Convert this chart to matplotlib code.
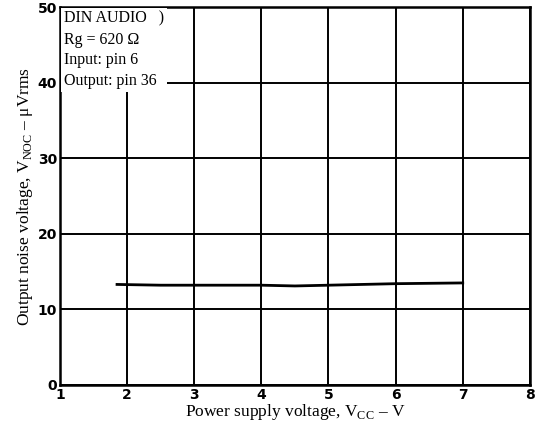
import matplotlib
matplotlib.use('Agg')
import matplotlib.pyplot as plt

plt.rcParams['mathtext.fontset'] = 'custom'
plt.rcParams['mathtext.rm'] = 'Liberation Serif'

# Data
vcc = [1.85, 2.5, 3.0, 3.5, 4.0, 4.5, 5.0, 5.5, 6.0, 6.5, 7.0]
vnoc = [13.3, 13.2, 13.2, 13.2, 13.2, 13.1, 13.2, 13.3, 13.4, 13.45, 13.5]

x_ticks = [1, 2, 3, 4, 5, 6, 7, 8]
y_ticks = [0, 10, 20, 30, 40, 50]

fig = plt.figure(figsize=(5.37, 4.30), dpi=100)
ax = fig.add_axes([0.1117, 0.1047, 0.875, 0.879])

ax.set_xlim(1, 8)
ax.set_ylim(0, 50)
ax.set_xticks(x_ticks)
ax.set_yticks(y_ticks)
ax.tick_params(length=0, pad=2)
for lab in ax.get_xticklabels() + ax.get_yticklabels():
    lab.set_fontweight('bold')
    lab.set_fontsize(10)
    lab.set_family('DejaVu Sans')

ax.grid(True, color='black', linewidth=1.4)
for s in ax.spines.values():
    s.set_linewidth(1.8)

ax.plot(vcc, vnoc, color='black', linewidth=2.0)

ax.text(1.06, 49.5,
        'DIN AUDIO   )\nRg = 620 Ω\nInput: pin 6\nOutput: pin 36',
        family='Liberation Serif', fontsize=11.5, va='top', ha='left',
        linespacing=1.4,
        bbox=dict(facecolor='white', edgecolor='none', pad=2))

ax.set_xlabel('Power supply voltage, V$_{\\rm CC}$ – V',
              family='Liberation Serif', fontsize=12.5, labelpad=0)
ax.set_ylabel('Output noise voltage, V$_{\\rm NOC}$ – μVrms',
              family='Liberation Serif', fontsize=12.5, labelpad=2)

fig.savefig('out.png', dpi=100)
